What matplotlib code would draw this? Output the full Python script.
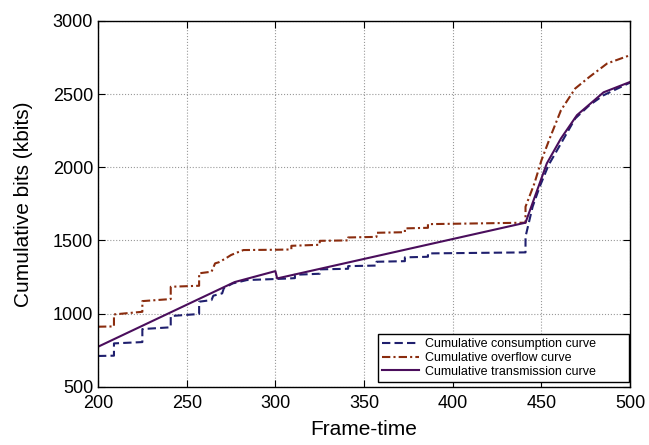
import matplotlib
matplotlib.use('Agg')
import matplotlib.pyplot as plt

plt.rcParams['font.family'] = ['Liberation Sans', 'DejaVu Sans']

# ---------------------------
# data
# ---------------------------
cons_x = [200, 209, 209, 225, 225, 241, 241, 257, 257, 264, 265, 270, 271, 276, 284, 300,
          308, 311, 311, 325, 325, 341, 341, 357, 357, 373, 373, 386, 386, 441, 441,
          445, 449, 454, 461, 469, 477, 485, 500]
cons_y = [710, 712, 796, 805, 894, 906, 983, 997, 1081, 1092, 1122, 1138, 1175, 1206, 1229, 1236,
          1240, 1242, 1265, 1272, 1302, 1306, 1324, 1328, 1354, 1358, 1384, 1388, 1411, 1418, 1525,
          1730, 1867, 2015, 2163, 2333, 2424, 2492, 2579]

ovf_x = [200, 209, 209, 225, 225, 241, 241, 257, 257, 264, 266, 268, 272, 275, 278, 282, 300,
         309, 309, 325, 325, 341, 341, 357, 357, 373, 373, 386, 386, 441, 441,
         446, 450, 455, 461, 469, 477, 487, 500]
ovf_y = [910, 912, 994, 1012, 1085, 1099, 1183, 1190, 1275, 1286, 1343, 1350, 1377, 1400, 1415, 1434, 1436,
         1438, 1463, 1470, 1497, 1500, 1520, 1524, 1552, 1556, 1582, 1586, 1611, 1621, 1730,
         1889, 2048, 2208, 2390, 2538, 2617, 2709, 2766]

tx_x = [200, 277, 300, 301, 441, 453, 461, 470, 485, 500]
tx_y = [773, 1215, 1290, 1240, 1621, 2026, 2197, 2356, 2512, 2583]

labels = ['Cumulative consumption curve',
          'Cumulative overflow curve',
          'Cumulative transmission curve']

# ---------------------------
# plot
# ---------------------------
fig = plt.figure(figsize=(6.49, 4.45), dpi=100)
ax = fig.add_axes([0.151, 0.131, 0.820, 0.822])

ax.plot(cons_x, cons_y, color='#1f1f6e', linewidth=1.5,
        linestyle=(0, (4, 2)), label=labels[0])
ax.plot(ovf_x, ovf_y, color='#8a2c0e', linewidth=1.5,
        linestyle=(0, (4, 1.5, 1, 1.5)), label=labels[1])
ax.plot(tx_x, tx_y, color='#4a0e5c', linewidth=1.5,
        linestyle='-', label=labels[2])

ax.set_xlim(200, 500)
ax.set_ylim(500, 3000)
ax.set_xticks(range(200, 501, 50))
ax.set_yticks(range(500, 3001, 500))

ax.grid(True, linestyle=':', color='#999999', linewidth=0.8)
ax.tick_params(direction='in', top=True, right=True, labelsize=13, length=5)
ax.tick_params(axis='x', pad=6)
for s in ax.spines.values():
    s.set_linewidth(1.0)

ax.set_xlabel('Frame-time', fontsize=15, labelpad=6)
ax.set_ylabel('Cumulative bits (kbits)', fontsize=15, labelpad=14)

# legend box placed where the reference has it (lower right, wide box)
leg = ax.legend(loc='lower left', bbox_to_anchor=(0.526, 0.014, 0.472, 0.13),
                mode='expand', borderaxespad=0, fontsize=9, fancybox=False,
                edgecolor='black', framealpha=1,
                handlelength=3.0, labelspacing=0.15, borderpad=0.3,
                handletextpad=0.5)
leg.get_frame().set_linewidth(1.0)

fig.savefig('out.png', dpi=100)
